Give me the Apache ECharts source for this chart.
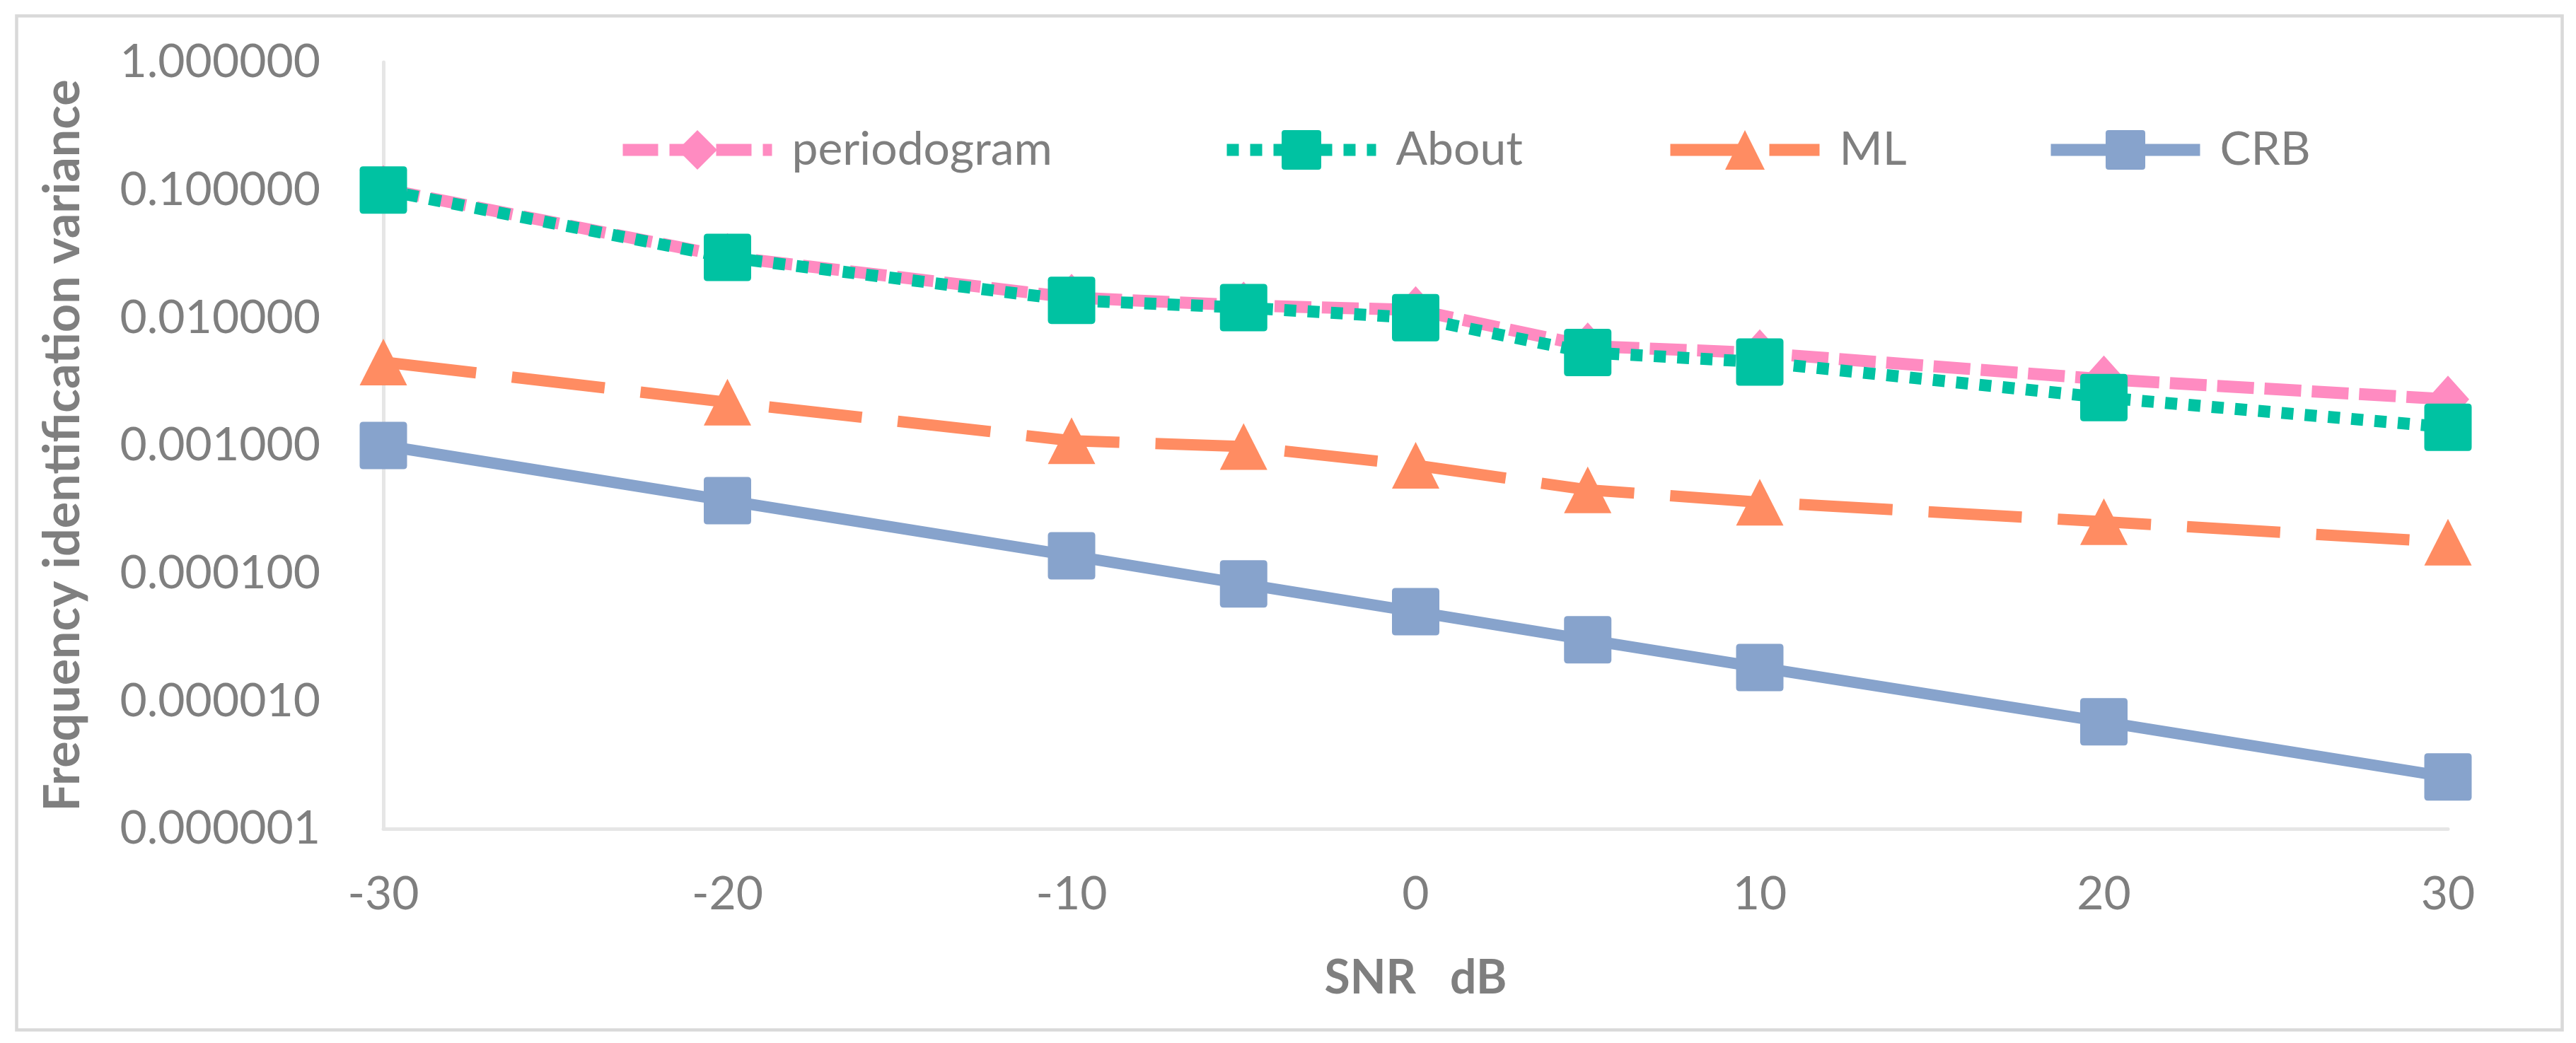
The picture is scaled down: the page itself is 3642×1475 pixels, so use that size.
<!DOCTYPE html>
<html>
<head>
<meta charset="utf-8">
<script src="https://cdn.jsdelivr.net/npm/echarts@6/dist/echarts.min.js"></script>
<style>
html,body{margin:0;padding:0;background:#fff;}
#c{width:3642px;height:1475px;}
</style>
</head>
<body>
<div id="c"></div>
<script>
// ---- data ----
var snr = [-30, -20, -10, -5, 0, 5, 10, 20, 30];
var periodogram = [0.102, 0.0300, 0.0144, 0.0125, 0.0115, 0.0060, 0.0053, 0.0033, 0.0023];
var about = [0.100, 0.0297, 0.0137, 0.0120, 0.0100, 0.00535, 0.0045, 0.00237, 0.00139];
var ml = [0.0045, 0.00218, 0.00109, 0.00098, 0.00070, 0.00045, 0.00036, 0.000253, 0.000175];
var crb = [0.00100, 0.00037, 0.000137, 0.0000824, 0.0000500, 0.0000301, 0.0000183, 0.00000687, 0.00000254];
var seriesNames = ['periodogram', 'About', 'ML', 'CRB'];
var xTicks = [-30, -20, -10, 0, 10, 20, 30];

function pairs(ys) { return snr.map(function (x, i) { return [x, ys[i]]; }); }

var FONT = 'Lato, "Open Sans", sans-serif';
var GRAY = '#7f7f7f';
var sq = 'path://M1.5,0 H18.5 Q20,0 20,1.5 V18.5 Q20,20 18.5,20 H1.5 Q0,20 0,18.5 V1.5 Q0,0 1.5,0 Z';

var colors = {periodogram: '#FF8BC1', About: '#00C2A2', ML: '#FF8C62', CRB: '#87A3CC'};
var dash = {periodogram: [52, 15], About: [17, 16], ML: [132, 51], CRB: 'solid'};
var dashLegend = {periodogram: [50, 16], About: [17, 16], ML: [100, 40], CRB: 'solid'};

var chart = echarts.init(document.getElementById('c'), null, {renderer: 'canvas'});

function legendAt(name, left) {
  return {
    data: [name], left: left, top: 174, itemWidth: 211, itemHeight: 70,
    lineStyle: {width: 17, type: dashLegend[name], color: colors[name], cap: 'butt'},
    textStyle: {fontFamily: FONT, fontSize: 66, color: GRAY, padding: [0, 0, 0, 23]},
    selectedMode: false
  };
}

var option = {
  backgroundColor: '#ffffff',
  animation: false,
  graphic: [{
    type: 'rect', left: 21, top: 20, silent: true,
    shape: {width: 3599, height: 1434},
    style: {fill: 'none', stroke: '#d9d9d9', lineWidth: 4.5}
  }],
  legend: [legendAt('periodogram', 867), legendAt('About', 1721), legendAt('ML', 2348), legendAt('CRB', 2886)],
  grid: {left: 542, right: 181, top: 88, bottom: 303, containLabel: false},
  xAxis: {
    type: 'value', min: -30, max: 30, interval: 10,
    axisLine: {show: true, onZero: false, lineStyle: {color: '#e6e6e6', width: 5}},
    axisTick: {show: false}, splitLine: {show: false},
    axisLabel: {fontFamily: FONT, fontSize: 66, color: GRAY, margin: 60,
      formatter: function (v) { return xTicks.indexOf(v) >= 0 ? String(v) : ''; }},
    name: 'SNR   dB', nameLocation: 'middle', nameGap: 179,
    nameTextStyle: {fontFamily: FONT, fontSize: 66, fontWeight: 'bold', color: GRAY}
  },
  yAxis: {
    type: 'log', logBase: 10, min: 0.000001, max: 1, interval: 1,
    axisLine: {show: true, onZero: false, lineStyle: {color: '#e6e6e6', width: 5}},
    axisTick: {show: false}, splitLine: {show: false},
    axisLabel: {fontFamily: FONT, fontSize: 66, color: GRAY, margin: 89,
      formatter: function (v) { return Number(v).toFixed(6); }},
    name: 'Frequency identification variance', nameLocation: 'middle', nameRotate: 90, nameGap: 418,
    nameTextStyle: {fontFamily: FONT, fontSize: 70, fontWeight: 'bold', color: GRAY}
  },
  series: [
    {
      name: 'periodogram', type: 'line', data: pairs(periodogram),
      symbol: 'diamond', symbolSize: [60, 67],
      itemStyle: {color: colors.periodogram},
      lineStyle: {color: colors.periodogram, width: 17, type: dash.periodogram, cap: 'butt'}
    },
    {
      name: 'About', type: 'line', data: pairs(about),
      symbol: sq, symbolSize: 67,
      itemStyle: {color: colors.About},
      lineStyle: {color: colors.About, width: 17, type: dash.About, cap: 'butt'}
    },
    {
      name: 'ML', type: 'line', data: pairs(ml),
      symbol: 'triangle', symbolSize: [67, 66],
      itemStyle: {color: colors.ML},
      lineStyle: {color: colors.ML, width: 16, type: dash.ML, cap: 'butt'}
    },
    {
      name: 'CRB', type: 'line', data: pairs(crb),
      symbol: sq, symbolSize: 67,
      itemStyle: {color: colors.CRB},
      lineStyle: {color: colors.CRB, width: 16, type: dash.CRB}
    }
  ]
};
chart.setOption(option);
</script>
</body>
</html>
